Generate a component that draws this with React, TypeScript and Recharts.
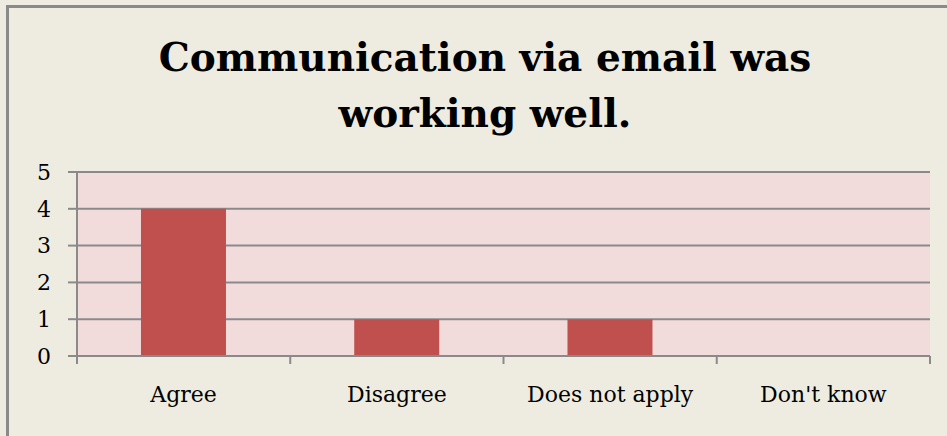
import React from 'react';
import { BarChart, Bar, XAxis, YAxis, CartesianGrid } from 'recharts';

const categories = ['Agree', 'Disagree', 'Does not apply', "Don't know"];
const counts = [4, 1, 1, 0];
const yTicks = [0, 1, 2, 3, 4, 5];

const data = categories.map((c, i) => ({ category: c, count: counts[i] }));

const SERIF = '"DejaVu Serif", serif';
const GRID = '#8a8a8a';
const AXIS_Y = 356;

const CategoryTick = (props: any) => {
  const { x, y, payload, index, visibleTicksCount } = props;
  const half = payload.offset ?? 0;
  const isLast = index === visibleTicksCount - 1;
  return (
    <g>
      <line x1={x - half} y1={AXIS_Y} x2={x - half} y2={AXIS_Y + 8} stroke={GRID} strokeWidth={2} />
      {isLast && (
        <line x1={x + half} y1={AXIS_Y} x2={x + half} y2={AXIS_Y + 8} stroke={GRID} strokeWidth={2} />
      )}
      <text x={x} y={y} dy="0.71em" textAnchor="middle" fontFamily={SERIF} fontSize={22} fill="#000">
        {payload.value}
      </text>
    </g>
  );
};

export default function App() {
  return (
    <div style={{ position: 'absolute', left: 0, top: 0, width: 947, height: 436, overflow: 'hidden', background: '#EEECE1' }}>
      <div
        style={{
          position: 'absolute',
          left: 6,
          top: 5,
          width: 1000,
          height: 500,
          borderLeft: '3px solid #8a8a8a',
          borderTop: '3px solid #8a8a8a',
        }}
      />
      <div
        style={{
          position: 'absolute',
          left: 0,
          top: 29,
          width: 970,
          textAlign: 'center',
          fontFamily: SERIF,
          fontWeight: 'bold',
          fontSize: 39,
          lineHeight: '56px',
          color: '#000',
        }}
      >
        Communication via email was
        <br />
        working well.
      </div>
      <div style={{ position: 'absolute', left: 0, top: 0 }}>
        <BarChart
          width={947}
          height={436}
          data={data}
          margin={{ top: 172, right: 17, bottom: 50, left: 17 }}
          barCategoryGap="30%"
        >
          <CartesianGrid vertical={false} fill="#F2DCDB" stroke={GRID} strokeWidth={2} fillOpacity={1} />
          <XAxis
            dataKey="category"
            height={30}
            tickLine={false}
            tickSize={8}
            tickMargin={22}
            axisLine={{ stroke: GRID, strokeWidth: 2 }}
            tick={<CategoryTick />}
            interval={0}
          />
          <YAxis
            width={60}
            domain={[0, 5]}
            ticks={yTicks}
            tickSize={9}
            tickMargin={17}
            tickLine={{ stroke: GRID, strokeWidth: 2 }}
            axisLine={{ stroke: GRID, strokeWidth: 2 }}
            tick={{ fontFamily: SERIF, fontSize: 22, fill: '#000' }}
          />
          <Bar dataKey="count" fill="#C0504D" isAnimationActive={false} />
        </BarChart>
      </div>
    </div>
  );
}
